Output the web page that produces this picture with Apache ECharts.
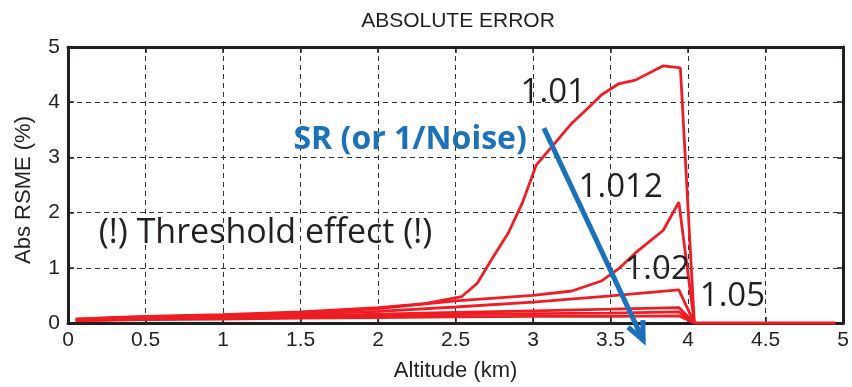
<!DOCTYPE html>
<html>
<head>
<meta charset="utf-8">
<script src="https://cdn.jsdelivr.net/npm/echarts@6/dist/echarts.min.js"></script>
<style>
  html, body { margin: 0; padding: 0; background: #fff; }
  #chart { width: 852px; height: 387px; }
</style>
</head>
<body>
<div id="chart"></div>
<script>
// Absolute RSME (%) versus altitude (km) for several SR values
const xTicks = [0, 0.5, 1, 1.5, 2, 2.5, 3, 3.5, 4, 4.5, 5];
const yTicks = [0, 1, 2, 3, 4, 5];

const sr101 = [[0.05,0.07],[0.3,0.1],[0.5,0.12],[1.0,0.15],[1.5,0.2],[2.0,0.28],[2.3,0.35],[2.54,0.48],[2.64,0.72],[2.73,1.14],[2.84,1.63],[2.93,2.17],[3.02,2.86],[3.12,3.19],[3.25,3.62],[3.36,3.91],[3.44,4.13],[3.55,4.33],[3.66,4.40],[3.84,4.66],[3.95,4.62],[4.04,0],[4.95,0]];
const sr1012 = [[0.05,0.07],[0.5,0.11],[1.0,0.14],[1.5,0.18],[2.0,0.26],[2.5,0.4],[3.0,0.5],[3.25,0.58],[3.44,0.76],[3.55,0.98],[3.66,1.27],[3.84,1.68],[3.94,2.19],[4.04,0]];
const sr102 = [[0.05,0.06],[0.5,0.09],[1.0,0.12],[1.5,0.16],[2.0,0.21],[2.5,0.29],[3.0,0.38],[3.5,0.49],[3.94,0.6],[4.04,0]];
const sr103 = [[0.05,0.05],[0.5,0.08],[1.0,0.1],[1.5,0.13],[2.0,0.16],[2.5,0.19],[3.0,0.22],[3.5,0.25],[3.94,0.28],[4.04,0]];
const sr104 = [[0.05,0.05],[0.5,0.07],[1.0,0.09],[1.5,0.11],[2.0,0.13],[2.5,0.15],[3.0,0.17],[3.5,0.18],[3.94,0.2],[4.04,0]];
const sr105 = [[0.05,0.04],[0.5,0.06],[1.0,0.07],[1.5,0.09],[2.0,0.1],[2.5,0.11],[3.0,0.12],[3.5,0.12],[3.94,0.13],[4.04,0]];

// Curve labels placed in data coordinates
const curveLabels = [
  { text: '1.01',  at: [3.13, 4.17] },
  { text: '1.012', at: [3.565, 2.45] },
  { text: '1.02',  at: [3.80, 0.96] },
  { text: '1.05',  at: [4.286, 0.47] }
];
const thresholdNote = { text: '(!) Threshold effect (!)', at: [1.274, 1.63] };
const srNote = { text: 'SR (or 1/Noise)', at: [2.207, 3.32] };
// Blue arrow: start and end in data coordinates
const arrowFrom = [3.07, 3.53];
const arrowTo = [3.71, -0.31];

const RED = '#ee1d24';
const BLUE = '#1b72bb';
const INK = '#231f20';
const AXIS_FONT = 'Liberation Sans, Arial, sans-serif';

const chart = echarts.init(document.getElementById('chart'), null, { renderer: 'canvas' });

function redLine(data) {
  return {
    type: 'line', data: data, symbol: 'none', showSymbol: false,
    lineStyle: { color: RED, width: 2.8 }, clip: false, z: 3
  };
}

const tickFont = { fontFamily: AXIS_FONT, fontSize: 21, color: INK };
const frameLine = { show: true, onZero: false, lineStyle: { color: INK, width: 3 } };
const innerTick = { show: true, inside: true, length: 6, lineStyle: { color: INK, width: 1.5 } };
const dashedGrid = { show: true, lineStyle: { color: '#333', width: 1, type: [5, 4] } };

const option = {
  backgroundColor: '#fff',
  animation: false,
  title: {
    text: 'ABSOLUTE ERROR', left: 453, top: 6, textAlign: 'center',
    textStyle: { fontFamily: AXIS_FONT, fontSize: 21, fontWeight: 'normal', color: INK }
  },
  grid: { left: 68, right: 7, top: 47, bottom: 64 },
  xAxis: [
    {
      type: 'value', min: 0, max: 5, interval: 0.5, position: 'bottom',
      name: 'Altitude (km)', nameLocation: 'middle', nameGap: 37,
      nameTextStyle: { fontFamily: AXIS_FONT, fontSize: 22, color: INK },
      axisLine: frameLine, axisTick: innerTick,
      axisLabel: Object.assign({ margin: 7, formatter: v => String(v) }, tickFont),
      splitLine: dashedGrid
    },
    {
      type: 'value', min: 0, max: 5, interval: 0.5, position: 'top',
      axisLine: frameLine, axisTick: innerTick,
      axisLabel: { show: false }, splitLine: { show: false }
    }
  ],
  yAxis: [
    {
      type: 'value', min: 0, max: 5, interval: 1, position: 'left',
      name: 'Abs RSME (%)', nameLocation: 'middle', nameGap: 33, nameRotate: 90,
      nameTextStyle: { fontFamily: AXIS_FONT, fontSize: 22, color: INK, padding: [0, 10, 0, 0] },
      axisLine: frameLine, axisTick: innerTick,
      axisLabel: Object.assign({ margin: 8 }, tickFont),
      splitLine: dashedGrid
    },
    {
      type: 'value', min: 0, max: 5, interval: 1, position: 'right',
      axisLine: frameLine, axisTick: innerTick,
      axisLabel: { show: false }, splitLine: { show: false }
    }
  ],
  series: [
    redLine(sr105), redLine(sr104), redLine(sr103),
    redLine(sr102), redLine(sr1012), redLine(sr101)
  ]
};

chart.setOption(option);

// Annotations drawn from data coordinates
function px(p) { return chart.convertToPixel({ gridIndex: 0 }, p); }

const noteFont = '"Open Sans", Lato, "DejaVu Sans", sans-serif';
const graphics = [];

function note(n, font, fill) {
  const p = px(n.at);
  graphics.push({
    type: 'text', x: p[0], y: p[1], z: 10,
    style: { text: n.text, font: font, fill: fill, textAlign: 'center', textVerticalAlign: 'middle' }
  });
}

curveLabels.forEach(l => note(l, '33px ' + noteFont, INK));
note(thresholdNote, '34px ' + noteFont, INK);
note(srNote, 'bold 32px ' + noteFont, BLUE);

const a0 = px(arrowFrom), a1 = px(arrowTo);
const ang = Math.atan2(a1[1] - a0[1], a1[0] - a0[0]);
const head = 20, spread = 0.42;
graphics.push({
  type: 'line', z: 11,
  shape: { x1: a0[0], y1: a0[1], x2: a1[0], y2: a1[1] },
  style: { stroke: BLUE, lineWidth: 5 }
});
graphics.push({
  type: 'polyline', z: 11,
  shape: { points: [
    [a1[0] - head * Math.cos(ang - spread), a1[1] - head * Math.sin(ang - spread)],
    [a1[0], a1[1]],
    [a1[0] - head * Math.cos(ang + spread), a1[1] - head * Math.sin(ang + spread)]
  ] },
  style: { stroke: BLUE, lineWidth: 5, fill: null, lineJoin: 'miter' }
});

chart.setOption({ graphic: graphics });
</script>
</body>
</html>
